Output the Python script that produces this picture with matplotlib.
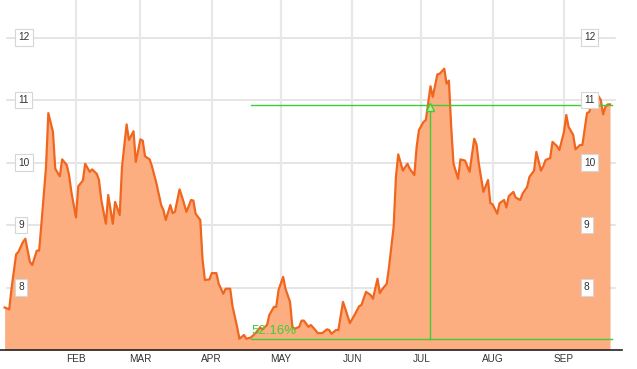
import numpy as np
import pandas as pd
import matplotlib
matplotlib.use("Agg")
import matplotlib.pyplot as plt
import matplotlib.transforms as mtransforms

# daily closes, days counted from Jan 1
days = [0, 2, 3, 5, 6, 8, 9, 11, 12, 14,
        15, 16, 18, 19, 21, 22, 24, 25, 27, 28,
        29, 31, 32, 34, 35, 37, 38, 40, 41, 42,
        44, 45, 47, 48, 50, 51, 53, 54, 56, 57,
        59, 60, 61, 63, 64, 66, 68, 69, 70, 72,
        73, 74, 76, 77, 79, 81, 82, 83, 85, 86,
        87, 89, 90, 92, 93, 95, 96, 98, 99, 101,
        102, 104, 105, 107, 109, 111, 112, 114, 115, 117,
        118, 119, 121, 122, 124, 125, 126, 128, 129, 130,
        132, 133, 135, 136, 138, 140, 141, 142, 144, 145,
        147, 148, 150, 152, 154, 155, 157, 159, 160, 162,
        163, 164, 166, 167, 169, 170, 171, 173, 175, 176,
        178, 179, 180, 182, 183, 185, 186, 188, 189, 191,
        192, 193, 194, 195, 197, 198, 200, 201, 202, 204,
        205, 206, 208, 210, 211, 212, 214, 215, 217, 218,
        219, 221, 222, 224, 225, 227, 228, 230, 231, 233,
        234, 235, 237, 238, 240, 241, 243, 244, 245, 247,
        248, 250, 251, 253, 254, 255, 257, 258, 259, 260,
        261, 262, 263]
prices = [7.68, 7.65, 7.98, 8.53, 8.57, 8.73, 8.78, 8.41, 8.36, 8.59,
          8.59, 9.02, 9.93, 10.79, 10.49, 9.90, 9.78, 10.05, 9.96, 9.80,
          9.53, 9.12, 9.62, 9.71, 9.98, 9.85, 9.89, 9.82, 9.72, 9.40,
          9.02, 9.48, 9.02, 9.37, 9.16, 9.93, 10.61, 10.36, 10.50, 10.01,
          10.37, 10.35, 10.10, 10.05, 9.94, 9.66, 9.32, 9.24, 9.08, 9.32,
          9.19, 9.21, 9.57, 9.46, 9.21, 9.40, 9.39, 9.18, 9.08, 8.44,
          8.12, 8.13, 8.23, 8.23, 8.06, 7.90, 7.98, 7.98, 7.70, 7.37,
          7.18, 7.24, 7.18, 7.20, 7.27, 7.36, 7.33, 7.40, 7.56, 7.69,
          7.69, 7.96, 8.17, 7.98, 7.77, 7.37, 7.34, 7.37, 7.47, 7.47,
          7.37, 7.40, 7.32, 7.27, 7.27, 7.33, 7.32, 7.26, 7.32, 7.32,
          7.77, 7.66, 7.43, 7.56, 7.70, 7.72, 7.93, 7.88, 7.82, 8.14,
          7.91, 7.97, 8.06, 8.33, 8.97, 9.77, 10.13, 9.87, 9.98, 9.90,
          9.80, 10.25, 10.52, 10.65, 10.68, 11.22, 11.05, 11.41, 11.42, 11.50,
          11.26, 11.31, 10.57, 9.98, 9.74, 10.05, 10.03, 9.94, 9.85, 10.38,
          10.29, 9.98, 9.53, 9.72, 9.35, 9.33, 9.18, 9.35, 9.40, 9.28,
          9.46, 9.53, 9.44, 9.40, 9.50, 9.61, 9.77, 9.87, 10.17, 9.87,
          9.94, 10.04, 10.07, 10.33, 10.26, 10.20, 10.49, 10.76, 10.57, 10.44,
          10.21, 10.28, 10.28, 10.79, 10.81, 10.95, 11.08, 11.06, 11.00, 10.77,
          10.89, 10.93, 10.93]

y_ticks = [8, 9, 10, 11, 12]
month_labels = ["FEB", "MAR", "APR", "MAY", "JUN", "JUL", "AUG", "SEP"]

# measurement tool: low point -> crossing point
low_day, low_value = 107, 7.18
high_day, high_value = 185, 10.925
end_day = 264
gain_label = "52.16%"

start = pd.Timestamp("2013-01-01")
dates = start + pd.to_timedelta(days, unit="D")
month_starts = pd.date_range("2013-02-01", periods=len(month_labels), freq="MS")

line_col = "#f0661e"
fill_col = "#fdae80"
green = "#3fcc3a"

plt.rcParams["font.family"] = ["Liberation Sans", "DejaVu Sans"]

fig = plt.figure(figsize=(6.37, 3.69), dpi=100)
ax = fig.add_axes([0, 19 / 369, 622 / 637, 350 / 369])

ax.set_xlim(start - pd.Timedelta(days=2.0), start + pd.Timedelta(days=268.2))
ax.set_ylim(7.0, 12.6)

# grid
for v in y_ticks:
    ax.axhline(v, xmin=7 / 622, xmax=615 / 622, color="#dedede", lw=1.1, zorder=0)
for m in month_starts:
    ax.axvline(m, color="#e8e8e8", lw=1.6, zorder=0)

ax.fill_between(dates, prices, 7.0, color=fill_col, lw=0, zorder=1)
ax.plot(dates, prices, color=line_col, lw=1.6, zorder=2)

# gain annotation
d = lambda n: start + pd.Timedelta(days=n)
ax.plot([d(low_day), d(end_day)], [high_value, high_value], color=green, lw=1, zorder=3)
ax.plot([d(low_day), d(end_day)], [low_value, low_value], color=green, lw=1, zorder=3)
ax.plot([d(high_day), d(high_day)], [low_value, high_value], color=green, lw=1, zorder=3)
ax.plot([d(high_day)], [high_value - 0.04], marker="^", ms=6, mfc="#c9e59a",
        mec=green, mew=1, zorder=4)
ax.text(d(low_day + 0.4), 7.26, gain_label, color=green, fontsize=9.5,
        ha="left", va="baseline", zorder=4)

# boxed y labels on both sides
trans = mtransforms.blended_transform_factory(ax.transAxes, ax.transData)
for v in y_ticks:
    for xa in (18.5 / 622, 584 / 622):
        ax.text(xa, v, str(v), transform=trans, fontsize=7.3, color="#333333",
                ha="left", va="center", zorder=5,
                bbox=dict(boxstyle="square,pad=0.32", fc="white", ec="#d6d6d6", lw=0.8))

ax.set_xticks(month_starts)
ax.set_xticklabels(month_labels)
ax.tick_params(axis="x", length=0, pad=3, labelsize=7.2, colors="#333333")
ax.set_yticks([])
for s in ("top", "left", "right"):
    ax.spines[s].set_visible(False)
ax.spines["bottom"].set_color("#222222")
ax.spines["bottom"].set_linewidth(1.2)

fig.savefig("out.png", dpi=100)
